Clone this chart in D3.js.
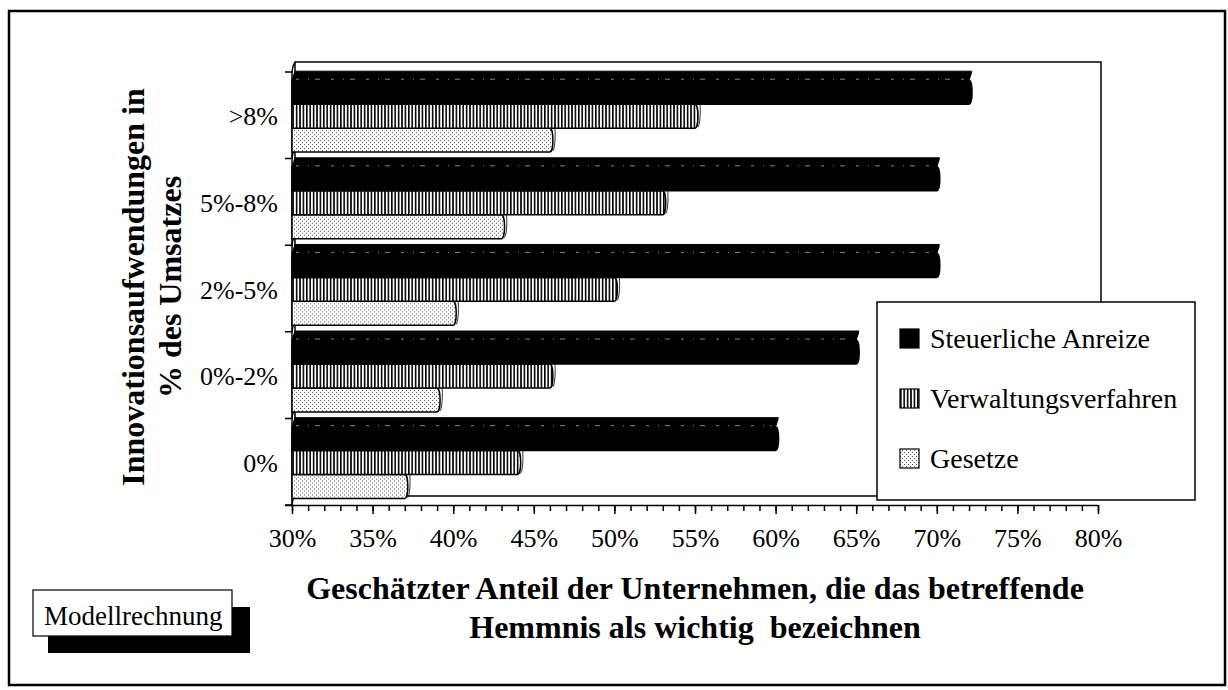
<!DOCTYPE html>
<html>
<head>
<meta charset="utf-8">
<script src="https://cdn.jsdelivr.net/npm/d3@7"></script>
<style>
  body { margin: 0; background: #fff; }
  text { font-family: 'Liberation Serif', 'Times New Roman', serif; fill: #000; }
  .title { font-weight: bold; font-size: 32px; }
  .tick text { font-size: 26px; }
</style>
</head>
<body>
<div id="chart"></div>
<script>
// categories (top to bottom) and series
const categories = ['>8%', '5%-8%', '2%-5%', '0%-2%', '0%'];
const seriesNames = ['Steuerliche Anreize', 'Verwaltungsverfahren', 'Gesetze'];

// values in percent, same order as categories
const steuerlicheAnreize = [72, 70, 70, 65, 60];
const verwaltungsverfahren = [55, 53, 50, 46, 44];
const gesetze = [46, 43, 40, 39, 37];

const xDomain = [30, 80];
const xMajorTicks = [30, 35, 40, 45, 50, 55, 60, 65, 70, 75, 80];

const yTitleLines = ['Innovationsaufwendungen in', '% des Umsatzes'];
const xTitleLines = ['Geschätzter Anteil der Unternehmen, die das betreffende', 'Hemmnis als wichtig  bezeichnen'];
const noteLabel = 'Modellrechnung';

const config = {
  width: 1228,
  height: 690,
  plot: { left: 292, right: 1098, top: 72, bottom: 505 },
  depth: { dx: 3, dy: 9 },
};

const svg = d3.select('#chart').append('svg')
  .attr('width', config.width)
  .attr('height', config.height);

// fill patterns
const defs = svg.append('defs');
const hatch = defs.append('pattern')
  .attr('id', 'hatch')
  .attr('patternUnits', 'userSpaceOnUse')
  .attr('width', 3.4)
  .attr('height', 10);
hatch.append('rect').attr('width', 3.4).attr('height', 10).attr('fill', '#fff');
hatch.append('rect').attr('width', 1.6).attr('height', 10).attr('fill', '#000');

const dots = defs.append('pattern')
  .attr('id', 'dots')
  .attr('patternUnits', 'userSpaceOnUse')
  .attr('width', 4)
  .attr('height', 4);
dots.append('rect').attr('width', 4).attr('height', 4).attr('fill', '#fff');
dots.append('rect').attr('width', 1).attr('height', 1).attr('fill', '#555');
dots.append('rect').attr('x', 2).attr('y', 2).attr('width', 1).attr('height', 1).attr('fill', '#555');

const fills = ['#000', 'url(#hatch)', 'url(#dots)'];

// outer frame
svg.append('rect')
  .attr('x', 9)
  .attr('y', 11)
  .attr('width', 1216)
  .attr('height', 674)
  .attr('fill', 'none')
  .attr('stroke', '#000')
  .attr('stroke-width', 2.5);

// scales
const x = d3.scaleLinear()
  .domain(xDomain)
  .range([config.plot.left, config.plot.right]);

const y = d3.scaleBand()
  .domain(categories)
  .range([config.plot.top, config.plot.bottom]);

const bw = y.bandwidth();
const yInner = d3.scaleBand()
  .domain(seriesNames)
  .range([bw * 0.095, bw * 0.925]);

const { dx, dy } = config.depth;

// back walls of the 3d box
const wall = svg.append('g')
  .attr('fill', 'none')
  .attr('stroke', '#000')
  .attr('stroke-width', 1.5);

wall.append('path')
  .attr('d', `M${x(xDomain[0]) + dx},${config.plot.bottom - dy} V${config.plot.top - dy - 1} H${x(xDomain[1]) + dx} V${config.plot.bottom - dy}`);
wall.append('line')
  .attr('x1', x(xDomain[0]) + dx)
  .attr('x2', x(xDomain[1]) + dx)
  .attr('y1', config.plot.bottom - dy)
  .attr('y2', config.plot.bottom - dy);

// depth lines at category boundaries (left wall)
const boundaries = categories.map((c) => y(c)).concat([config.plot.bottom]);
wall.selectAll('.depth-line')
  .data(boundaries)
  .enter()
  .append('path')
  .attr('class', 'depth-line')
  .attr('d', (d) => `M${x(xDomain[0]) - 7},${d} H${x(xDomain[0])} Q${x(xDomain[0]) + 1},${d - dy + 1} ${x(xDomain[0]) + dx},${d - dy}`);

// front-left edge
wall.append('line')
  .attr('x1', x(xDomain[0]))
  .attr('x2', x(xDomain[0]))
  .attr('y1', config.plot.top)
  .attr('y2', config.plot.bottom);

// bars
const seriesValues = [steuerlicheAnreize, verwaltungsverfahren, gesetze];
const rows = [];
categories.forEach((cat, ci) => {
  // draw from bottom series up so the upper bar covers the lower top face
  for (let si = seriesNames.length - 1; si >= 0; si -= 1) {
    rows.push({ cat, series: seriesNames[si], si, value: seriesValues[si][ci] });
  }
});

const bars = svg.append('g')
  .selectAll('.bar')
  .data(rows)
  .enter()
  .append('g')
  .attr('class', 'bar')
  .attr('transform', (d) => `translate(0,${y(d.cat) + yInner(d.series)})`);

const h = yInner.bandwidth();
const x0 = x(xDomain[0]);

// top face
bars.append('path')
  .attr('d', (d) => `M${x0},0 L${x0 + dx},${-dy} H${x(d.value) + dx} L${x(d.value)},0 Z`)
  .attr('fill', (d) => fills[d.si])
  .attr('stroke', '#000')
  .attr('stroke-width', 1);

// front face with rounded end
bars.append('path')
  .attr('d', (d) => `M${x0},0 H${x(d.value)} A3,${h / 2} 0 0 1 ${x(d.value)},${h} H${x0} Z`)
  .attr('fill', (d) => fills[d.si])
  .attr('stroke', '#000')
  .attr('stroke-width', 1.5);

// end cap outline
bars.append('path')
  .attr('d', (d) => `M${x(d.value) + dx},${-dy} A3,${(h + dy) / 2} 0 0 1 ${x(d.value) + 3},${h - 1}`)
  .attr('fill', 'none')
  .attr('stroke', (d) => (d.si === 0 ? '#fff' : '#000'))
  .attr('stroke-width', 0.8);

// faint edge between top and front face on the dark bars
bars.filter((d) => d.si === 0)
  .append('line')
  .attr('x1', x0 + 4)
  .attr('x2', (d) => x(d.value) - 4)
  .attr('y1', -1)
  .attr('y2', -1)
  .attr('stroke', '#fff')
  .attr('stroke-opacity', 0.75)
  .attr('stroke-width', 0.7)
  .attr('stroke-dasharray', '3 9 1 6 5 11');

// x axis: minor and major ticks
const axisY = config.plot.bottom;
svg.append('g')
  .attr('transform', `translate(0,${axisY})`)
  .call(d3.axisBottom(x).tickValues(d3.range(xDomain[0], xDomain[1] + 1, 1)).tickSize(6).tickFormat(''))
  .call((g) => g.select('.domain').remove())
  .selectAll('line')
  .attr('stroke', '#000')
  .attr('stroke-width', 1.5);

const xAxis = svg.append('g')
  .attr('transform', `translate(0,${axisY})`)
  .call(d3.axisBottom(x).tickValues(xMajorTicks).tickSize(9).tickPadding(15).tickFormat((d) => `${d}%`));
xAxis.select('.domain')
  .attr('d', `M${x0 - 7},0.5 H${x(xDomain[1])}`)
  .attr('stroke', '#000')
  .attr('stroke-width', 1.5);
xAxis.selectAll('.tick line').attr('stroke', '#000').attr('stroke-width', 1.5);
xAxis.selectAll('.tick text')
  .attr('fill', '#000');
xAxis.attr('font-family', null).attr('font-size', null);

// category labels
svg.append('g')
  .selectAll('.cat-label')
  .data(categories)
  .enter()
  .append('text')
  .attr('class', 'cat-label')
  .attr('x', 278)
  .attr('y', (d) => y(d) + bw / 2 + 10)
  .attr('text-anchor', 'end')
  .attr('font-size', 26)
  .text((d) => d);

// axis titles
const yTitle = svg.append('g')
  .attr('transform', 'translate(144,287) rotate(-90)');
yTitle.selectAll('text')
  .data(yTitleLines)
  .enter()
  .append('text')
  .attr('class', 'title')
  .attr('text-anchor', 'middle')
  .attr('y', (d, i) => i * 37)
  .text((d) => d);

svg.selectAll('.x-title')
  .data(xTitleLines)
  .enter()
  .append('text')
  .attr('class', 'title x-title')
  .attr('x', 695)
  .attr('y', (d, i) => 599 + i * 39)
  .attr('text-anchor', 'middle')
  .style('white-space', 'pre')
  .text((d) => d);

// legend
const legend = svg.append('g');
legend.append('rect')
  .attr('x', 877)
  .attr('y', 302)
  .attr('width', 318)
  .attr('height', 198)
  .attr('fill', '#fff')
  .attr('stroke', '#000')
  .attr('stroke-width', 1.5);

const legendItems = legend.selectAll('.legend-item')
  .data(seriesNames)
  .enter()
  .append('g')
  .attr('class', 'legend-item')
  .attr('transform', (d, i) => `translate(900,${348 + i * 60})`);

legendItems.append('rect')
  .attr('x', 0)
  .attr('y', -19)
  .attr('width', 19)
  .attr('height', 19)
  .attr('fill', (d, i) => fills[i])
  .attr('stroke', '#000')
  .attr('stroke-width', 1.2);

legendItems.append('text')
  .attr('x', 30)
  .attr('y', 0)
  .attr('font-size', 28)
  .text((d) => d);

// note box with shadow
const note = svg.append('g');
note.append('rect')
  .attr('x', 48)
  .attr('y', 607)
  .attr('width', 202)
  .attr('height', 46)
  .attr('fill', '#000');
note.append('rect')
  .attr('x', 33)
  .attr('y', 590)
  .attr('width', 199)
  .attr('height', 46)
  .attr('fill', '#fff')
  .attr('stroke', '#000')
  .attr('stroke-width', 1.2);
note.append('text')
  .attr('x', 44)
  .attr('y', 625)
  .attr('font-size', 27)
  .text(noteLabel);
</script>
</body>
</html>
